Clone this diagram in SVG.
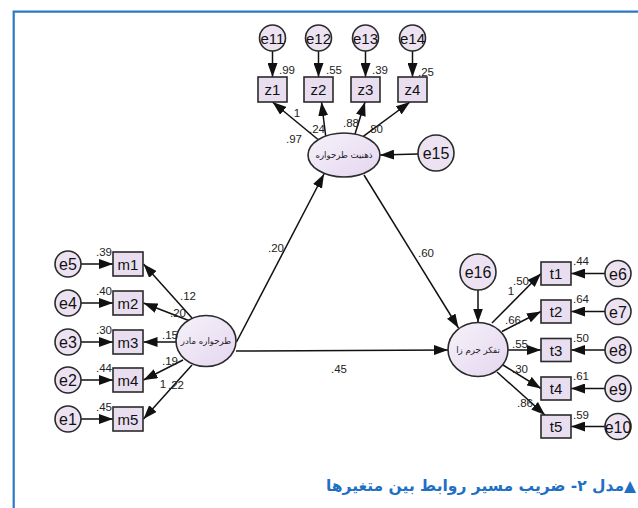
<svg xmlns="http://www.w3.org/2000/svg" width="638" height="508" viewBox="0 0 638 508">
<defs>
<marker id="ah" markerUnits="userSpaceOnUse" markerWidth="14" markerHeight="10" refX="14" refY="5" orient="auto">
<path d="M0,0 L14,5 L0,10 z" fill="#111"/>
</marker>
<linearGradient id="eg" x1="0" y1="0" x2="1" y2="1">
<stop offset="0" stop-color="#f6f2fa"/>
<stop offset="1" stop-color="#e4d6ef"/>
</linearGradient>
<style>
.bx{fill:#e8def0;stroke:#2a2a2a;stroke-width:1.6}
.ci{fill:#ece2f2;stroke:#2a2a2a;stroke-width:1.6}
.el{fill:url(#eg);stroke:#2a2a2a;stroke-width:1.6}
.c line{stroke:#111;stroke-width:1.5;marker-end:url(#ah)}
.lb{font-family:"Liberation Sans",Arial,sans-serif;font-size:15px;fill:#111;text-anchor:middle}
.ls{font-family:"Liberation Sans",Arial,sans-serif;font-size:16px;fill:#111;text-anchor:middle}
.n{font-family:"Liberation Sans",Arial,sans-serif;font-size:11.5px;fill:#222;text-anchor:middle}
.fa{font-family:"DejaVu Sans",sans-serif;font-size:8.6px;fill:#222;text-anchor:middle}
</style>
</defs>
<rect width="638" height="508" fill="#fff"/>
<path d="M13.7,508 V11.7 H638" fill="none" stroke="#2b78c8" stroke-width="2.2"/>

<g class="c" id="connectors">
<line x1="272.5" y1="51" x2="272.5" y2="77"/>
<line x1="318.5" y1="51" x2="318.5" y2="77"/>
<line x1="365.5" y1="51" x2="365.5" y2="77"/>
<line x1="412.5" y1="51" x2="412.5" y2="77"/>
<line x1="318" y1="139.5" x2="272.5" y2="102"/>
<line x1="325.7" y1="136" x2="321.5" y2="102"/>
<line x1="355" y1="134" x2="365" y2="102"/>
<line x1="363.6" y1="136.2" x2="410" y2="102"/>
<line x1="418" y1="154" x2="380" y2="155"/>
<line x1="236.5" y1="342" x2="324" y2="174"/>
<line x1="364" y1="175" x2="458.5" y2="328"/>
<line x1="236" y1="351" x2="448" y2="350"/>
<line x1="478" y1="290" x2="478" y2="322.5"/>
<line x1="192" y1="318" x2="143.5" y2="264"/>
<line x1="190" y1="321" x2="143.5" y2="303"/>
<line x1="176" y1="342" x2="143.5" y2="342"/>
<line x1="183" y1="360" x2="143.5" y2="380"/>
<line x1="192" y1="365" x2="143.5" y2="419"/>
<line x1="81" y1="264" x2="113" y2="264"/>
<line x1="81" y1="303" x2="113" y2="303"/>
<line x1="81" y1="342" x2="113" y2="342"/>
<line x1="81" y1="380" x2="113" y2="380"/>
<line x1="81" y1="419" x2="113" y2="419"/>
<line x1="492" y1="323" x2="541" y2="273.5"/>
<line x1="502" y1="331.5" x2="541" y2="311.5"/>
<line x1="508" y1="350" x2="541" y2="350"/>
<line x1="503" y1="365" x2="541" y2="388.5"/>
<line x1="497" y1="372" x2="545" y2="415"/>
<line x1="605" y1="273.5" x2="571" y2="273.5"/>
<line x1="605" y1="311.5" x2="571" y2="311.5"/>
<line x1="605" y1="350" x2="571" y2="350"/>
<line x1="605" y1="388.5" x2="571" y2="388.5"/>
<line x1="605" y1="426.5" x2="571" y2="426.5"/>
</g>

<g id="e11"><circle class="ci" cx="272.5" cy="38" r="13"/><text class="lb" x="272.5" y="43.5">e11</text></g>
<g id="e12"><circle class="ci" cx="318.5" cy="38" r="13"/><text class="lb" x="318.5" y="43.5">e12</text></g>
<g id="e13"><circle class="ci" cx="365.5" cy="38" r="13"/><text class="lb" x="365.5" y="43.5">e13</text></g>
<g id="e14"><circle class="ci" cx="412.5" cy="38" r="13"/><text class="lb" x="412.5" y="43.5">e14</text></g>

<g id="z1"><rect class="bx" x="258" y="77" width="29" height="25"/><text class="lb" x="272.5" y="95">z1</text></g>
<g id="z2"><rect class="bx" x="304" y="77" width="29" height="25"/><text class="lb" x="318.5" y="95">z2</text></g>
<g id="z3"><rect class="bx" x="351" y="77" width="29" height="25"/><text class="lb" x="365.5" y="95">z3</text></g>
<g id="z4"><rect class="bx" x="398" y="77" width="29" height="25"/><text class="lb" x="412.5" y="95">z4</text></g>

<g id="schema"><ellipse class="el" cx="344" cy="155" rx="36" ry="22"/><text class="fa" x="344" y="158">ذهنیت طرحواره</text></g>
<g id="e15"><circle class="ci" cx="436" cy="153" r="18"/><text class="ls" x="436" y="159">e15</text></g>

<g id="mother"><ellipse class="el" cx="206" cy="341" rx="30" ry="25.5"/><text class="fa" x="206" y="344">طرحواره مادر</text></g>
<g id="m1"><rect class="bx" x="113" y="252" width="30" height="24"/><text class="lb" x="128" y="269.5">m1</text></g>
<g id="m2"><rect class="bx" x="113" y="291" width="30" height="24"/><text class="lb" x="128" y="308.5">m2</text></g>
<g id="m3"><rect class="bx" x="113" y="330" width="30" height="24"/><text class="lb" x="128" y="347.5">m3</text></g>
<g id="m4"><rect class="bx" x="113" y="368" width="30" height="24"/><text class="lb" x="128" y="385.5">m4</text></g>
<g id="m5"><rect class="bx" x="113" y="407" width="30" height="24"/><text class="lb" x="128" y="424.5">m5</text></g>
<g id="e5"><circle class="ci" cx="68" cy="264" r="13"/><text class="ls" x="68" y="270">e5</text></g>
<g id="e4"><circle class="ci" cx="68" cy="303" r="13"/><text class="ls" x="68" y="309">e4</text></g>
<g id="e3"><circle class="ci" cx="68" cy="342" r="13"/><text class="ls" x="68" y="348">e3</text></g>
<g id="e2"><circle class="ci" cx="68" cy="380" r="13"/><text class="ls" x="68" y="386">e2</text></g>
<g id="e1"><circle class="ci" cx="68" cy="419" r="13"/><text class="ls" x="68" y="425">e1</text></g>

<g id="crime"><ellipse class="el" cx="478" cy="349.5" rx="30" ry="27"/><text class="fa" x="478" y="352.5">تفکر جرم زا</text></g>
<g id="e16"><circle class="ci" cx="478" cy="272" r="18"/><text class="ls" x="478" y="278">e16</text></g>
<g id="t1"><rect class="bx" x="541" y="262" width="30" height="23"/><text class="lb" x="556" y="279">t1</text></g>
<g id="t2"><rect class="bx" x="541" y="300" width="30" height="23"/><text class="lb" x="556" y="317">t2</text></g>
<g id="t3"><rect class="bx" x="541" y="338.5" width="30" height="23"/><text class="lb" x="556" y="355.5">t3</text></g>
<g id="t4"><rect class="bx" x="541" y="377" width="30" height="23"/><text class="lb" x="556" y="394">t4</text></g>
<g id="t5"><rect class="bx" x="541" y="415" width="30" height="23"/><text class="lb" x="556" y="432">t5</text></g>
<g id="e6"><circle class="ci" cx="618" cy="273.5" r="13"/><text class="ls" x="618" y="279.5">e6</text></g>
<g id="e7"><circle class="ci" cx="618" cy="311.5" r="13"/><text class="ls" x="618" y="317.5">e7</text></g>
<g id="e8"><circle class="ci" cx="618" cy="350" r="13"/><text class="ls" x="618" y="356">e8</text></g>
<g id="e9"><circle class="ci" cx="618" cy="388.5" r="13"/><text class="ls" x="618" y="394.5">e9</text></g>
<g id="e10"><circle class="ci" cx="618" cy="426.5" r="13"/><text class="ls" x="618" y="432.5">e10</text></g>

<g id="labels">
<text class="n" x="287" y="74">.99</text>
<text class="n" x="334" y="74">.55</text>
<text class="n" x="380" y="74">.39</text>
<text class="n" x="426" y="76">.25</text>
<text class="n" x="297" y="117">1</text>
<text class="n" x="317" y="133">.24</text>
<text class="n" x="351" y="127">.88</text>
<text class="n" x="375" y="133">.80</text>
<text class="n" x="294" y="143">.97</text>
<text class="n" x="276" y="252">.20</text>
<text class="n" x="426" y="257">.60</text>
<text class="n" x="339" y="373">.45</text>
<text class="n" x="104" y="256">.39</text>
<text class="n" x="104" y="295">.40</text>
<text class="n" x="104" y="334">.30</text>
<text class="n" x="104" y="372">.44</text>
<text class="n" x="104" y="411">.45</text>
<text class="n" x="188" y="300">.12</text>
<text class="n" x="178" y="317">.20</text>
<text class="n" x="170" y="339">.15</text>
<text class="n" x="170" y="365">.19</text>
<text class="n" x="163" y="388">1</text>
<text class="n" x="176" y="389">.22</text>
<text class="n" x="521" y="285">.50</text>
<text class="n" x="511" y="295">1</text>
<text class="n" x="513" y="324">.66</text>
<text class="n" x="520" y="348">.55</text>
<text class="n" x="520" y="373">.30</text>
<text class="n" x="525" y="407">.86</text>
<text class="n" x="581" y="265">.44</text>
<text class="n" x="581" y="303">.64</text>
<text class="n" x="581" y="342">.50</text>
<text class="n" x="581" y="380">.61</text>
<text class="n" x="581" y="419">.59</text>
</g>

<text x="481" y="491" direction="rtl" text-anchor="middle" font-family="DejaVu Sans, sans-serif" font-size="15.5" font-weight="bold" fill="#1f6fc5">▲مدل ۲- ضریب مسیر روابط بین متغیرها</text>
</svg>
